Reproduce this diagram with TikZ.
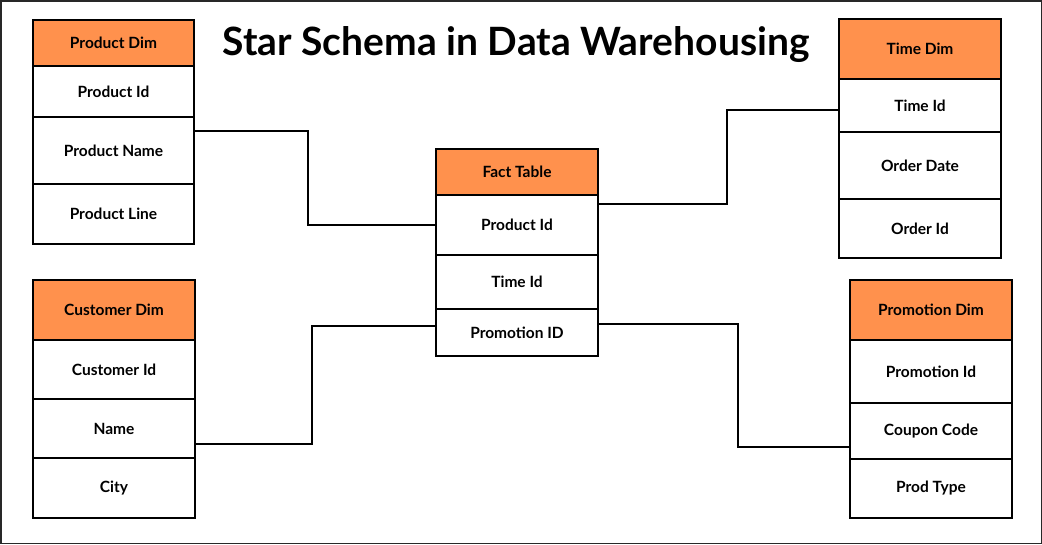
\documentclass[tikz,border=0pt]{standalone}
\usepackage{fontspec}
\setmainfont{Lato}
\usepackage{tikz}
\usetikzlibrary{positioning}
\definecolor{headorange}{RGB}{255,145,77}
\definecolor{frame}{RGB}{40,40,40}

\begin{document}
\begin{tikzpicture}[x=1pt, y=-1pt,
        cell/.style = {rectangle, draw=black, line width=2pt,
        minimum width=162pt, inner sep=0pt, outer sep=0pt,
        font=\fontsize{15.5}{17}\selectfont\bfseries},
        head/.style = {cell, fill=headorange},
        link/.style = {draw=black, line width=2.2pt}]

        \useasboundingbox (0,0) rectangle (1042,544);
        \draw[frame, line width=1.5pt] (0.75,0.75) rectangle (1041.25,543.25);

        % Title
        \node[font=\fontsize{39}{42}\selectfont\bfseries, anchor=base] (title) at (516,55) {Star Schema in Data Warehousing};

        % Product Dim
        \node [head, minimum width=161pt, minimum height=46pt] (pdim) at (113.5,43) {Product Dim};
        \node [cell, minimum width=161pt, minimum height=51pt, below=0pt of pdim] (pid) {Product Id};
        \node [cell, minimum width=161pt, minimum height=67pt, below=0pt of pid] (pname) {Product Name};
        \node [cell, minimum width=161pt, minimum height=60pt, below=0pt of pname] (pline) {Product Line};

        % Time Dim
        \node [head, minimum height=60pt] (tdim) at (920,49) {Time Dim};
        \node [cell, minimum height=53pt, below=0pt of tdim] (tid) {Time Id};
        \node [cell, minimum height=67pt, below=0pt of tid] (tdate) {Order Date};
        \node [cell, minimum height=59pt, below=0pt of tdate] (torder) {Order Id};

        % Fact Table
        \node [head, minimum height=46pt] (fact) at (517,172) {Fact Table};
        \node [cell, minimum height=60pt, below=0pt of fact] (fpid) {Product Id};
        \node [cell, minimum height=54pt, below=0pt of fpid] (ftid) {Time Id};
        \node [cell, minimum height=47pt, below=0pt of ftid] (fpromo) {Promotion ID};

        % Customer Dim
        \node [head, minimum height=60pt] (cdim) at (114,310) {Customer Dim};
        \node [cell, minimum height=59pt, below=0pt of cdim] (cid) {Customer Id};
        \node [cell, minimum height=59pt, below=0pt of cid] (cname) {Name};
        \node [cell, minimum height=60pt, below=0pt of cname] (ccity) {City};

        % Promotion Dim
        \node [head, minimum height=60pt] (prdim) at (931,310) {Promotion Dim};
        \node [cell, minimum height=63pt, below=0pt of prdim] (prid) {Promotion Id};
        \node [cell, minimum height=56pt, below=0pt of prid] (pcode) {Coupon Code};
        \node [cell, minimum height=59pt, below=0pt of pcode] (ptype) {Prod Type};

        % Links to the fact table
        \draw[link] ([yshift=19.5pt]pname.east) -- ++(114,0) |- (fpid.west);
        \draw[link] ([yshift=21pt]fpid.east) -- ++(129,0) |- ([yshift=-4.5pt]tid.west);
        \draw[link] ([yshift=-15.5pt]cname.east) -- ++(117,0) |- ([yshift=6.5pt]fpromo.west);
        \draw[link] ([yshift=8.5pt]fpromo.east) -- ++(140,0) |- ([yshift=-16pt]pcode.west);

    \end{tikzpicture}
\end{document}
